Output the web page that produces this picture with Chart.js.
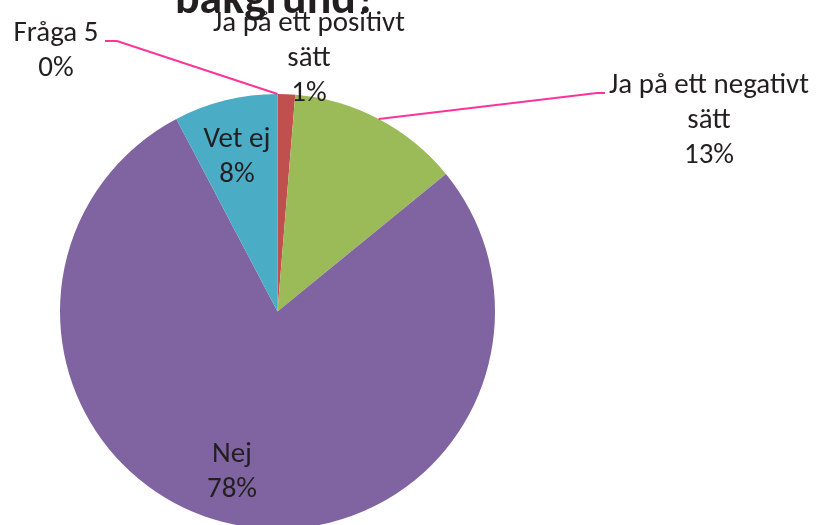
<!DOCTYPE html>
<html>
<head>
<meta charset="utf-8">
<script src="https://cdn.jsdelivr.net/npm/chart.js@4/dist/chart.umd.min.js"></script>
<style>
  html, body { margin: 0; padding: 0; background: #fff; overflow: hidden; }
  #wrap { width: 818px; height: 525px; overflow: hidden; position: relative; }
  canvas { display: block; }
</style>
</head>
<body>
<div id="wrap"><canvas id="c" width="818" height="560"></canvas></div>
<script>
// ---- data ----
const categories = ['Fråga 5', 'Ja på ett positivt sätt', 'Ja på ett negativt sätt', 'Nej', 'Vet ej'];
const values = [0, 1.3, 12.8, 78.2, 7.7];
const percentLabels = ['0%', '1%', '13%', '78%', '8%'];
const labelLines = [
  ['Fråga 5'],
  ['Ja på ett positivt', 'sätt'],
  ['Ja på ett negativt', 'sätt'],
  ['Nej'],
  ['Vet ej']
];
const titleText = 'bakgrund?';

// ---- styles / layout ----
const colors = ['#4F81BD', '#C0504D', '#9BBB59', '#8064A2', '#4BACC6'];
const FONT_FAMILY = '"Carlito", "Lato", sans-serif';
const TEXT_COLOR = '#231f20';
const LEADER_COLOR = '#FF3399';
const LINE_GAP = 35;
// x = centre of text, y = baseline of first line, leader = points from text toward arc
const labelLayout = [
  { x: 56, y: 41, leader: [[105, 41], [117, 41]] },
  { x: 309, y: 31, leader: null },
  { x: 709, y: 93, leader: [[605, 93], [597, 93]] },
  { x: 232, y: 462, leader: null },
  { x: 237, y: 147, leader: null }
];

function fitFont(ctx, text, targetW, weight) {
  const base = 30;
  ctx.font = weight + ' ' + base + 'px ' + FONT_FAMILY;
  const w = ctx.measureText(text).width;
  return base * targetW / w;
}

const labelPlugin = {
  id: 'labelPlugin',
  afterDraw(chart) {
    const ctx = chart.ctx;
    const meta = chart.getDatasetMeta(0);
    const size = fitFont(ctx, 'Ja på ett negativt', 200, 'normal');
    const tSize = fitFont(ctx, titleText, 202, 'bold');
    ctx.save();
    // title (partially cut off at top)
    ctx.fillStyle = TEXT_COLOR;
    ctx.textAlign = 'center';
    ctx.textBaseline = 'alphabetic';
    ctx.font = 'bold ' + tSize + 'px ' + FONT_FAMILY;
    ctx.fillText(titleText, 276, 13);

    meta.data.forEach((arc, i) => {
      const p = arc.getProps(['x', 'y', 'startAngle', 'endAngle', 'outerRadius'], true);
      const mid = (p.startAngle + p.endAngle) / 2;
      const ax = p.x + Math.cos(mid) * p.outerRadius;
      const ay = p.y + Math.sin(mid) * p.outerRadius;
      const L = labelLayout[i];
      if (L.leader) {
        ctx.strokeStyle = LEADER_COLOR;
        ctx.lineWidth = 2;
        ctx.beginPath();
        ctx.moveTo(L.leader[0][0], L.leader[0][1]);
        for (let k = 1; k < L.leader.length; k++) ctx.lineTo(L.leader[k][0], L.leader[k][1]);
        ctx.lineTo(ax, ay);
        ctx.stroke();
      }
      const lines = labelLines[i].concat([percentLabels[i]]);
      ctx.fillStyle = TEXT_COLOR;
      ctx.font = size + 'px ' + FONT_FAMILY;
      lines.forEach((t, j) => ctx.fillText(t, L.x, L.y + j * LINE_GAP));
    });
    ctx.restore();
  }
};

new Chart(document.getElementById('c'), {
  type: 'pie',
  data: {
    labels: categories,
    datasets: [{
      data: values,
      backgroundColor: colors,
      borderWidth: 0
    }]
  },
  options: {
    responsive: false,
    animation: false,
    devicePixelRatio: 1,
    layout: { padding: { left: 60, top: 94, right: 323, bottom: 31 } },
    plugins: { legend: { display: false }, tooltip: { enabled: false }, title: { display: false } }
  },
  plugins: [labelPlugin]
});
</script>
</body>
</html>
